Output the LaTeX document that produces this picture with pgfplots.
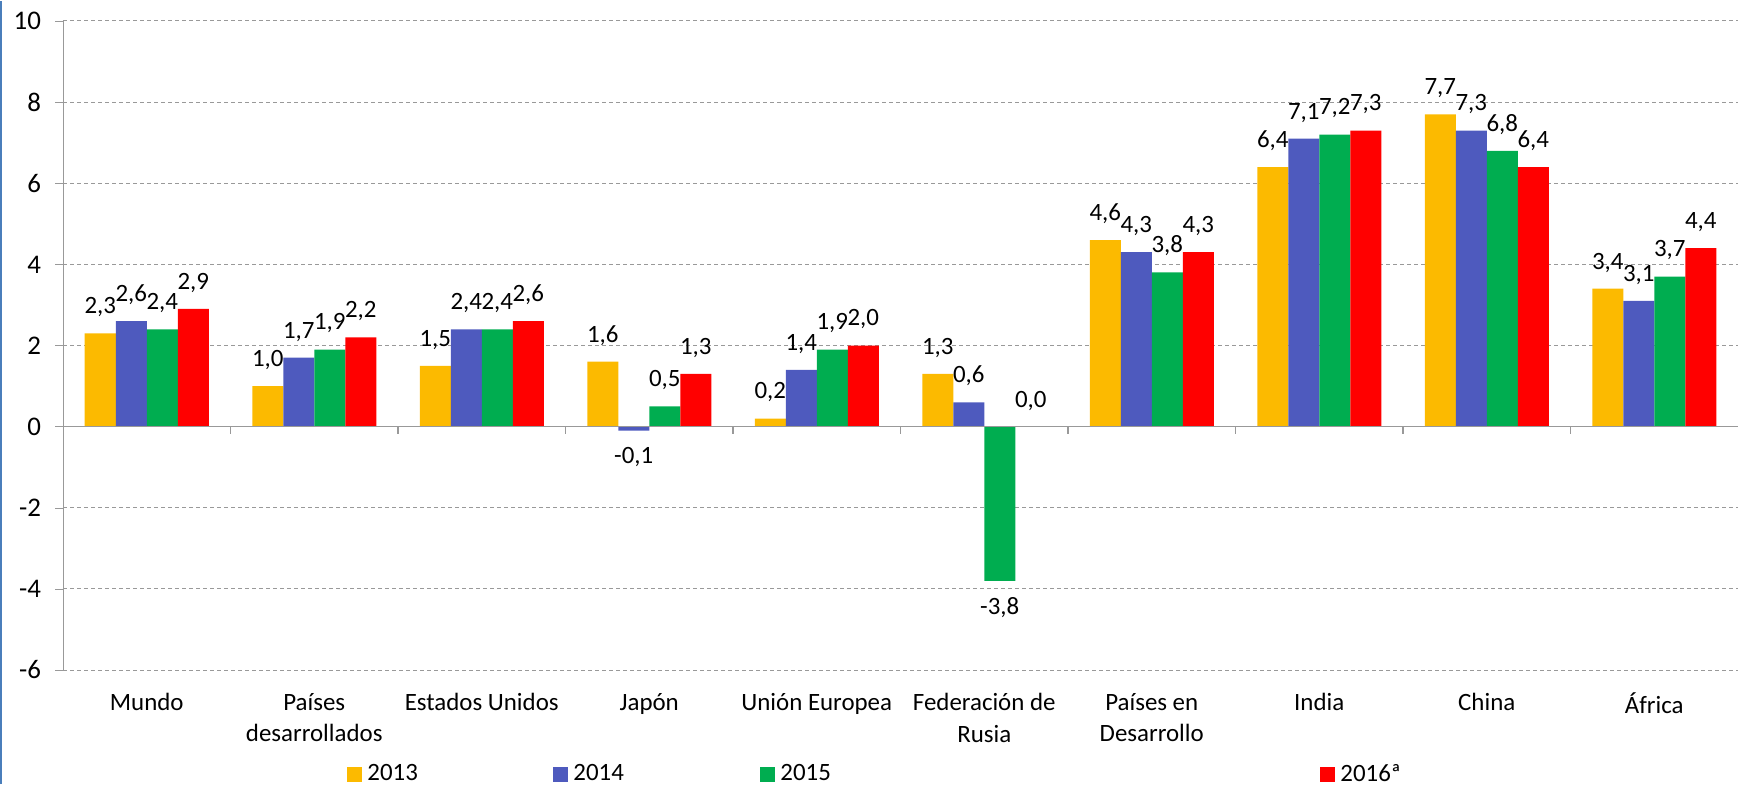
\documentclass[border=0pt]{standalone}
\usepackage{fontspec}
\setmainfont{Carlito}
\usepackage{pgfplots}
\pgfplotsset{compat=1.18}
\definecolor{cA}{RGB}{252,186,0}
\definecolor{cB}{RGB}{78,90,190}
\definecolor{cC}{RGB}{0,173,80}
\definecolor{cD}{RGB}{255,0,0}
\definecolor{frameblue}{RGB}{74,126,187}
\begin{document}
\begin{tikzpicture}
\begin{axis}[
  scale only axis, width=837.5bp, height=324.5bp,
  ymin=-6, ymax=10, ytick={-6,-4,...,10},
  xmin=-0.5, xmax=9.5,
  xtick={0,...,9},
  xticklabels={Mundo,Países\\desarrollados,Estados Unidos,Japón,Unión Europea,Federación de\\Rusia,Países en\\Desarrollo,India,China,África},
  xticklabel style={align=center, font=\fontsize{12.5}{16}\selectfont, yshift=-4bp},
  yticklabel style={font=\fontsize{13.5}{15}\selectfont, xshift=-3.5bp},
  /pgf/number format/assume math mode=true,
  axis y line*=left, axis x line*=bottom,
  x axis line style={draw=none},
  y axis line style={draw=gray!80},
  xtick style={draw=none},
  ytick style={draw=gray!80},
  tick align=outside, major tick length=4bp,
  ymajorgrids, grid style={gray!80, dash pattern=on 2bp off 1.5bp, line width=0.5bp},
  ybar=0pt, bar width=15.5bp,
  nodes near coords={\pgfmathprintnumber[fixed,fixed zerofill,precision=1,use comma]{\pgfplotspointmeta}},
  every node near coord/.append style={font=\fontsize{12.5}{15}\selectfont, black, inner xsep=0pt, inner ysep=8bp},
  legend columns=4,
  legend image code/.code={\fill[#1] (0bp,-3.75bp) rectangle (7.5bp,3.75bp);},
  legend style={draw=none, fill=none, inner sep=0pt, column sep=0pt,
    nodes={inner sep=0pt}, font=\fontsize{12.5}{14}\selectfont,
    at={(axis description cs:0.16955,-0.16025)}, anchor=west},
]
\addplot[fill=cA, draw=none] coordinates {(0,2.3) (1,1.0) (2,1.5) (3,1.6) (4,0.2) (5,1.3) (6,4.6) (7,6.4) (8,7.7) (9,3.4)};
\addplot[fill=cB, draw=none] coordinates {(0,2.6) (1,1.7) (2,2.4) (3,-0.1) (4,1.4) (5,0.6) (6,4.3) (7,7.1) (8,7.3) (9,3.1)};
\addplot[fill=cC, draw=none] coordinates {(0,2.4) (1,1.9) (2,2.4) (3,0.5) (4,1.9) (5,-3.8) (6,3.8) (7,7.2) (8,6.8) (9,3.7)};
\addplot[fill=cD, draw=none] coordinates {(0,2.9) (1,2.2) (2,2.6) (3,1.3) (4,2.0) (5,0.0) (6,4.3) (7,7.3) (8,6.4) (9,4.4)};
\addlegendentry{\makebox[95.5bp][l]{\hspace{2.5bp}2013}}
\addlegendentry{\makebox[96bp][l]{\hspace{2.5bp}2014}}
\addlegendentry{\makebox[272.5bp][l]{\hspace{2.5bp}2015}}
\addlegendentry{\hspace{2.5bp}2016ª}
\draw[gray!80, line width=0.6bp] (axis cs:-0.5,0) -- (axis cs:9.5,0);
\pgfplotsinvokeforeach{0.5,1.5,2.5,3.5,4.5,5.5,6.5,7.5,8.5}{\draw[gray!80, line width=0.6bp] (axis cs:#1,0) -- ([yshift=-3.5bp]axis cs:#1,0);}
\coordinate (bl) at (rel axis cs:0,0);
\coordinate (tr) at (rel axis cs:1,1);
\coordinate (tl) at (rel axis cs:0,1);
\end{axis}
\pgfresetboundingbox
\path ([xshift=-31.5bp,yshift=-57bp]bl) rectangle ([xshift=2bp,yshift=10bp]tr);
\draw[frameblue, line width=1bp] ([xshift=-31bp,yshift=-57bp]bl) -- ([xshift=-31bp,yshift=10bp]tl);
\end{tikzpicture}
\end{document}
